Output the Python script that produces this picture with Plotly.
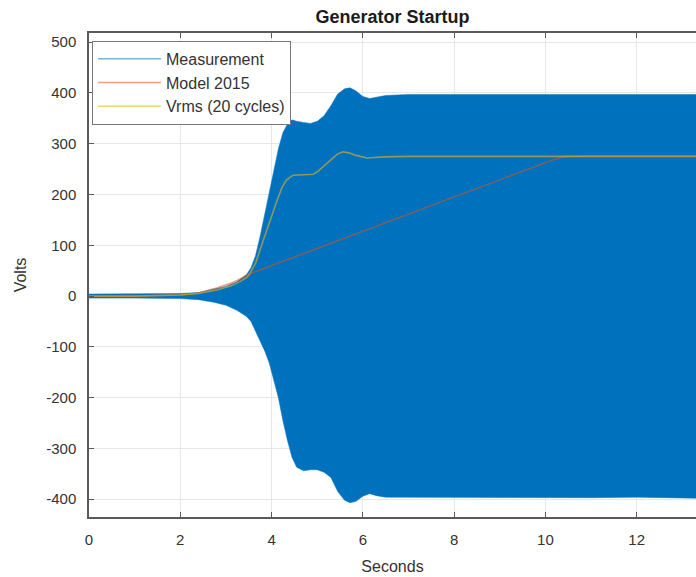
import plotly.graph_objects as go

# ---- data ----
# Measurement drawn as its envelope (upper / lower peaks of the waveform)
env_t = [0, 1, 2, 2.4, 2.73, 3.0, 3.24, 3.45, 3.55, 3.65, 3.75, 3.85, 3.95, 4.05, 4.15,
         4.25, 4.35, 4.45, 4.55, 4.7, 4.85, 5.0, 5.15, 5.3, 5.45, 5.6, 5.72, 5.85, 6.0,
         6.15, 6.3, 6.5, 7.0, 8.0, 9.0, 10.0, 11.0, 12.0, 13.3]
env_upper = [4, 4, 5, 7, 13, 19, 28, 42, 56, 80, 118, 160, 205, 250, 290,
             322, 339, 347, 344, 342, 340, 344, 355, 375, 398, 408, 410, 404, 393,
             389, 392, 395, 397, 397, 396, 396, 397, 397, 397]
env_lower = [-4, -4, -5, -7, -12, -18, -28, -40, -50, -68, -88, -108, -132, -165, -200,
             -246, -285, -318, -337, -344, -342, -342, -347, -357, -385, -402, -407, -404, -394,
             -389, -393, -396, -396, -397, -397, -397, -397, -396, -398]

vrms_t = [0, 1, 2, 2.4, 2.8, 3.1, 3.3, 3.46, 3.53, 3.65, 3.82, 3.93, 4.03, 4.12, 4.22,
          4.32, 4.47, 4.6, 4.75, 4.91, 5.02, 5.13, 5.3, 5.45, 5.57, 5.7, 5.85, 6.09,
          6.45, 7.0, 13.3]
vrms = [0, 0, 2, 5, 12, 20, 28, 37, 45, 65, 110, 140, 163, 188, 212,
        228, 238, 239, 239, 240, 246, 254, 268, 280, 284, 282, 277, 272,
        274, 275, 275]

model_t = [0, 1, 2, 2.4, 2.8, 3.1, 3.3, 3.5, 4, 5, 6, 7, 8, 9, 9.8, 10.1, 10.3,
           10.5, 11, 13.3]
model = [0, 0, 2, 6, 16, 25, 33, 43, 60, 94, 128, 162, 196, 230, 257, 266, 272,
         275, 276, 276]

x_ticks = [0, 2, 4, 6, 8, 10, 12]
y_ticks = [-400, -300, -200, -100, 0, 100, 200, 300, 400, 500]

BLUE = "#0072BD"
ORANGE = "#D95319"
YELLOW = "#EDB120"
TXT = "#333333"
AX = "#5a5a5a"
FONT = "Liberation Sans, Arial, sans-serif"

fig = go.Figure()

# Measurement envelope as a filled band
fig.add_trace(go.Scatter(
    x=env_t + env_t[::-1],
    y=env_upper + env_lower[::-1],
    fill="toself", fillcolor=BLUE, mode="lines",
    line=dict(color=BLUE, width=0.5),
    showlegend=False, hoverinfo="skip"))

# legend entry for the measurement (line swatch)
fig.add_trace(go.Scatter(x=[None], y=[None], mode="lines", name="Measurement",
                         opacity=0.55, line=dict(color=BLUE, width=1.5)))

fig.add_trace(go.Scatter(x=model_t, y=model, mode="lines", name="Model 2015",
                         opacity=0.55, line=dict(color=ORANGE, width=1.6)))
fig.add_trace(go.Scatter(x=vrms_t, y=vrms, mode="lines", name="Vrms (20 cycles)",
                         opacity=0.6, line=dict(color=YELLOW, width=1.6)))

fig.update_layout(
    width=696, height=577,
    margin=dict(l=89, r=0, t=33, b=60),
    paper_bgcolor="white", plot_bgcolor="white",
    font=dict(family=FONT, size=15, color=TXT),
    title=dict(text="<b>Generator Startup</b>", x=0.5, xref="paper",
               y=1 - 17 / 577, yanchor="middle", xanchor="center",
               font=dict(family=FONT, size=18, color="#1a1a1a")),
    legend=dict(x=0.005, y=0.984, xanchor="left", yanchor="top",
                bgcolor="white", bordercolor="#777777", borderwidth=1,
                font=dict(family=FONT, size=16, color=TXT),
                itemwidth=63, tracegroupgap=0),
    showlegend=True,
)

fig.update_xaxes(
    range=[0, 13.3], tickvals=x_ticks, ticktext=[str(v) for v in x_ticks],
    showgrid=True, gridcolor="#e6e6e6", gridwidth=1,
    showline=True, linecolor=AX, linewidth=1.5, mirror="ticks",
    ticks="inside", ticklen=5, tickcolor=AX,
    zeroline=False,
    ticklabelstandoff=8,
    title=dict(text="Seconds", standoff=14, font=dict(size=16, color=TXT)),
    tickfont=dict(size=15, color=TXT),
)
fig.update_yaxes(
    range=[-435, 518], tickvals=y_ticks, ticktext=[str(v) for v in y_ticks],
    showgrid=True, gridcolor="#e6e6e6", gridwidth=1,
    showline=True, linecolor=AX, linewidth=1.5, mirror=False,
    ticks="inside", ticklen=5, tickcolor=AX,
    zeroline=False,
    ticklabelstandoff=8,
    title=dict(text="Volts", standoff=16, font=dict(size=16, color=TXT)),
    tickfont=dict(size=15, color=TXT),
)

fig.write_html("out.html")
